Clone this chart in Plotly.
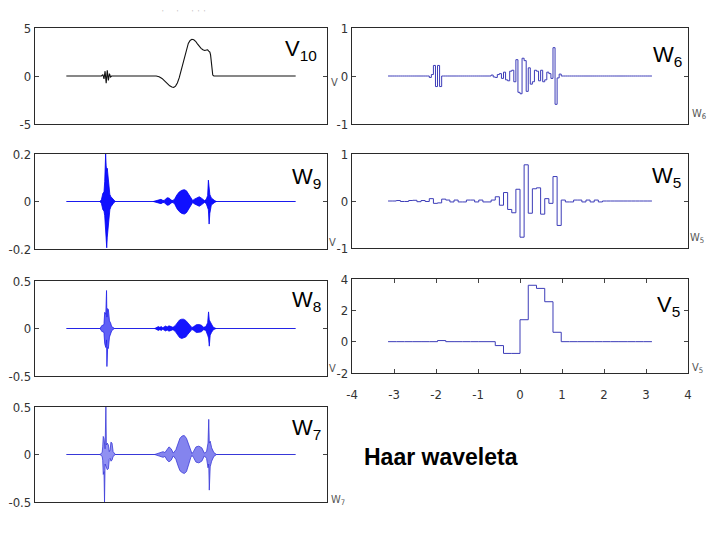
import numpy as np
import plotly.graph_objects as go

FIG_W, FIG_H = 720, 540
PAGE_OFFSET = 8  # default body margin of the page holding the figure
PI = np.pi

# ---------------- data ----------------
# V10 : smooth signal (x, value)
V10_X = [-3.1416, -2.18, -2.14, -2.11, -2.08, -2.05, -2.02, -1.99, -1.96, -1.93, -1.90,
         -0.68, -0.6, -0.52, -0.45, -0.38, -0.31, -0.25, -0.2, -0.15, -0.1, -0.05, 0.0, 0.05,
         0.1, 0.15, 0.2, 0.25, 0.3, 0.35, 0.4, 0.45, 0.5, 0.55, 0.6, 0.65, 0.7, 0.73, 0.76,
         0.79, 0.81, 0.83, 0.85, 0.87, 0.9, 3.1416]
V10_Y = [0, 0, 0.15, -0.3, 0.5, -0.75, 0.6, -0.45, 0.25, -0.1, 0,
         0, -0.08, -0.25, -0.5, -0.8, -1.02, -1.15, -1.18, -1.05, -0.72, -0.2, 0.5, 1.35,
         2.2, 2.9, 3.4, 3.7, 3.82, 3.78, 3.62, 3.35, 3.08, 2.88, 2.73, 2.66, 2.7, 2.72, 2.6,
         2.5, 2.2, 1.4, 0.5, 0.1, 0, 0]

# dense detail signals: envelopes (x, upper, lower) per burst
W9_BURST_A = [(-2.22, 0, 0), (-2.18, 0.008, -0.008), (-2.14, 0.035, -0.035), (-2.11, 0.04, -0.04),
              (-2.09, 0.085, -0.06), (-2.065, 0.2, -0.12), (-2.05, 0.15, -0.14), (-2.035, 0.13, -0.195),
              (-2.02, 0.14, -0.15), (-2.0, 0.1, -0.11), (-1.975, 0.055, -0.06), (-1.95, 0.03, -0.035),
              (-1.92, 0.02, -0.022), (-1.88, 0.012, -0.012), (-1.84, 0.005, -0.005), (-1.8, 0, 0)]
W9_BURST_B = [(-0.76, 0, 0), (-0.66, 0.003, -0.003), (-0.6, 0.007, -0.007), (-0.55, 0.009, -0.009),
              (-0.5, 0.005, -0.005), (-0.46, 0.004, -0.004), (-0.42, 0.011, -0.011), (-0.37, 0.016, -0.016),
              (-0.32, 0.014, -0.014), (-0.27, 0.006, -0.006), (-0.22, 0.004, -0.004), (-0.17, 0.012, -0.012),
              (-0.11, 0.028, -0.03), (-0.05, 0.04, -0.042), (0.02, 0.047, -0.05), (0.09, 0.05, -0.053),
              (0.15, 0.045, -0.047), (0.21, 0.03, -0.032), (0.27, 0.012, -0.012), (0.32, 0.004, -0.004),
              (0.37, 0.01, -0.01), (0.44, 0.017, -0.017), (0.5, 0.02, -0.02), (0.57, 0.013, -0.013),
              (0.64, 0.004, -0.004), (0.69, 0.008, -0.008), (0.73, 0.025, -0.025), (0.75, 0.09, -0.035),
              (0.77, 0.04, -0.095), (0.79, 0.03, -0.05), (0.83, 0.015, -0.015), (0.88, 0.008, -0.008),
              (0.93, 0.003, -0.003), (0.975, 0, 0)]

W8_BURST_A = [(-2.22, 0, 0), (-2.19, 0.012, -0.012), (-2.16, 0.035, -0.035), (-2.13, 0.03, -0.03),
              (-2.11, 0.05, -0.05), (-2.09, 0.17, -0.16), (-2.06, 0.15, -0.2), (-2.04, 0.4, -0.12),
              (-2.03, 0.12, -0.4), (-2.01, 0.21, -0.2), (-1.99, 0.2, -0.21), (-1.96, 0.08, -0.09),
              (-1.93, 0.06, -0.06), (-1.9, 0.02, -0.025), (-1.86, 0.01, -0.01), (-1.82, 0, 0)]
W8_BURST_B = [(-0.72, 0, 0), (-0.665, 0.01, -0.01), (-0.62, 0.02, -0.02), (-0.58, 0.012, -0.012),
              (-0.54, 0.02, -0.02), (-0.5, 0.008, -0.008), (-0.46, 0.022, -0.022), (-0.42, 0.026, -0.026),
              (-0.38, 0.015, -0.015), (-0.33, 0.028, -0.028), (-0.27, 0.02, -0.02), (-0.22, 0.012, -0.012),
              (-0.16, 0.03, -0.03), (-0.1, 0.065, -0.07), (-0.04, 0.09, -0.095), (0.02, 0.098, -0.105),
              (0.07, 0.098, -0.1), (0.13, 0.085, -0.09), (0.19, 0.06, -0.06), (0.25, 0.025, -0.025),
              (0.3, 0.01, -0.01), (0.35, 0.02, -0.02), (0.42, 0.04, -0.042), (0.49, 0.042, -0.04),
              (0.56, 0.035, -0.035), (0.62, 0.012, -0.012), (0.68, 0.02, -0.02), (0.73, 0.06, -0.07),
              (0.755, 0.175, -0.1), (0.775, 0.09, -0.186), (0.8, 0.07, -0.07), (0.84, 0.04, -0.04),
              (0.88, 0.015, -0.015), (0.93, 0.005, -0.005), (0.96, 0, 0)]

W7_BURST_A = [(-2.22, 0, 0), (-2.19, 0.01, -0.01), (-2.16, 0.02, -0.02), (-2.145, 0.08, -0.06),
              (-2.13, 0.19, -0.21), (-2.11, 0.17, -0.18), (-2.095, 0.08, -0.5), (-2.08, 0.06, -0.1),
              (-2.058, 0.5, -0.12), (-2.045, 0.1, -0.13), (-2.02, 0.12, -0.16), (-1.99, 0.1, -0.15),
              (-1.965, 0.03, -0.05), (-1.94, 0.05, -0.04), (-1.92, 0.13, -0.07), (-1.89, 0.12, -0.06),
              (-1.86, 0.03, -0.02), (-1.83, 0.01, -0.01), (-1.8, 0, 0)]
W7_BURST_B = [(-0.72, 0, 0), (-0.665, 0.008, -0.008), (-0.6, 0.015, -0.015), (-0.55, 0.025, -0.025),
              (-0.49, 0.03, -0.03), (-0.44, 0.02, -0.02), (-0.38, 0.06, -0.06), (-0.33, 0.08, -0.077),
              (-0.27, 0.06, -0.06), (-0.21, 0.015, -0.015), (-0.14, 0.05, -0.05), (-0.08, 0.12, -0.12),
              (-0.03, 0.17, -0.17), (0.03, 0.195, -0.19), (0.09, 0.2, -0.2), (0.15, 0.17, -0.18),
              (0.21, 0.1, -0.1), (0.27, 0.03, -0.03), (0.3, 0.01, -0.01), (0.34, 0.03, -0.03),
              (0.41, 0.08, -0.08), (0.49, 0.088, -0.088), (0.57, 0.07, -0.07), (0.64, 0.015, -0.015),
              (0.7, 0.03, -0.04), (0.74, 0.12, -0.14), (0.76, 0.37, -0.1), (0.775, 0.12, -0.375),
              (0.8, 0.14, -0.13), (0.84, 0.07, -0.07), (0.9, 0.02, -0.02), (0.975, 0, 0)]

# Haar detail coefficients (each gives +d then -d on its interval)
W6_COEF = ([0] * 10 + [-0.03, 0.22, 0.22] + [0] * 12 +
           [0.02, -0.03, 0.05, 0.08, -0.1, 0.12, 0.34, -0.37, 0.32, 0.17, -0.12, 0.1, 0.12,
            -0.08, 0.05, 0.59, -0.04] + [0] * 22)
W5_COEF = [0, 0.01, -0.01, 0.015, 0.01, 0.05, -0.04, 0.02, 0.02, -0.02, 0.02, 0.02, -0.02,
           0.09, 0.18, -0.25, -0.77, -0.26, 0.28, 0.05, 0.52, 0.02, -0.02, 0.02, 0.02, 0.02,
           0, 0, 0, 0, 0, 0]
# Haar approximation V5 (piecewise constant, 32 pieces)
V5_VALS = [0, 0, 0, 0, 0, 0, 0.07, 0, 0, 0, 0, 0, 0, -0.25, -0.75, -0.75, 1.4, 3.6, 3.4, 2.55,
           0.6, 0, 0, 0, 0, 0, 0, 0, 0, 0, 0, 0]

# tick labels
TICKS_V10 = ([-5, 0, 5], ["-5", "0", "5"])
TICKS_W9 = ([-0.2, 0, 0.2], ["-0.2", "0", "0.2"])
TICKS_W87 = ([-0.5, 0, 0.5], ["-0.5", "0", "0.5"])
TICKS_W65 = ([-1, 0, 1], ["-1", "0", "1"])
TICKS_V5 = ([-2, 0, 2, 4], ["-2", "0", "2", "4"])
XTICKS_V5 = ([-4, -3, -2, -1, 0, 1, 2, 3, 4], ["-4", "-3", "-2", "-1", "0", "1", "2", "3", "4"])

# ---------------- layout helpers ----------------
def fx(px):
    return (px - PAGE_OFFSET) / FIG_W


def fy(py):
    return 1 - (py - PAGE_OFFSET) / FIG_H


NARROW = "Liberation Sans Narrow, DejaVu Sans Condensed, Arial Narrow, Liberation Sans, sans-serif"
SANS = "Liberation Sans, Arial, Helvetica, sans-serif"

# panel boxes in pixels: (left, right, top, bottom), y-range, ticks
PANELS = [
    dict(box=(35, 327, 28, 124), yr=(-5, 5), ticks=TICKS_V10),    # 1 V10
    dict(box=(35, 327, 154, 249), yr=(-0.2, 0.2), ticks=TICKS_W9),  # 2 W9
    dict(box=(35, 327, 281, 376), yr=(-0.5, 0.5), ticks=TICKS_W87),  # 3 W8
    dict(box=(35, 327, 407, 502), yr=(-0.5, 0.5), ticks=TICKS_W87),  # 4 W7
    dict(box=(352, 688, 28, 124), yr=(-1, 1), ticks=TICKS_W65),     # 5 W6
    dict(box=(352, 688, 154, 248), yr=(-1, 1), ticks=TICKS_W65),    # 6 W5
    dict(box=(352, 688, 279, 373), yr=(-2, 4), ticks=TICKS_V5),     # 7 V5
]

fig = go.Figure()


def ax(i):
    return ("x" if i == 1 else f"x{i}"), ("y" if i == 1 else f"y{i}")


def add_line(i, x, y, color, width=1.0, shape="linear"):
    xa, ya = ax(i)
    fig.add_trace(go.Scatter(x=list(x), y=list(y), mode="lines", xaxis=xa, yaxis=ya,
                             line=dict(color=color, width=width, shape=shape),
                             hoverinfo="skip", showlegend=False))


def add_envelope(i, burst, line_color, fill_color):
    xa, ya = ax(i)
    xs, up, lo = zip(*burst)
    fig.add_trace(go.Scatter(x=list(xs), y=list(up), mode="lines", xaxis=xa, yaxis=ya,
                             line=dict(color=line_color, width=0.8), hoverinfo="skip",
                             showlegend=False))
    fig.add_trace(go.Scatter(x=list(xs), y=list(lo), mode="lines", xaxis=xa, yaxis=ya,
                             line=dict(color=line_color, width=0.8), fill="tonexty",
                             fillcolor=fill_color, hoverinfo="skip", showlegend=False))


def add_steps(i, vals, color):
    edges = np.linspace(-PI, PI, len(vals) + 1)
    add_line(i, edges, list(vals) + [vals[-1]], color, 1.0, "hv")


def haar_pieces(coef):
    out = []
    for d in coef:
        out += [d, -d]
    return out


# 1: V10
add_line(1, V10_X, V10_Y, "#111111", 1.1)
# 2: W9
add_line(2, [-PI, PI], [0, 0], "#1a1aee", 1.0)
add_envelope(2, W9_BURST_A, "#0000f0", "#1010ff")
add_envelope(2, W9_BURST_B, "#0000f0", "#1010ff")
# 3: W8
add_line(3, [-PI, PI], [0, 0], "#2424e6", 1.0)
add_envelope(3, W8_BURST_A, "#2020e8", "#6060f6")
add_envelope(3, W8_BURST_B, "#0a0af0", "#1414ff")
# 4: W7
add_line(4, [-PI, PI], [0, 0], "#3838d8", 1.0)
add_envelope(4, W7_BURST_A, "#3a3ad8", "#9090f2")
add_envelope(4, W7_BURST_B, "#3a3ad8", "#8484ee")
# 5: W6
add_steps(5, haar_pieces(W6_COEF), "#3c3cb8")
# 6: W5
add_steps(6, haar_pieces(W5_COEF), "#3c3cb8")
# 7: V5
add_steps(7, V5_VALS, "#3c3cb8")

layout = dict(width=FIG_W, height=FIG_H, margin=dict(l=0, r=0, t=0, b=0, pad=0, autoexpand=False),
              paper_bgcolor="white", plot_bgcolor="white", showlegend=False)

for i, p in enumerate(PANELS, start=1):
    l, r, t, b = p["box"]
    xk = "xaxis" if i == 1 else f"xaxis{i}"
    yk = "yaxis" if i == 1 else f"yaxis{i}"
    xa, ya = ax(i)
    xaxis = dict(domain=[fx(l), fx(r)], range=[-4, 4], anchor=ya, showgrid=False,
                 zeroline=False, showline=True, mirror=True, linecolor="#2a2a2a",
                 linewidth=1.3, showticklabels=False, ticks="", fixedrange=True,
                 automargin=False)
    if i == 7:
        xaxis.update(tickvals=XTICKS_V5[0], ticktext=XTICKS_V5[1], showticklabels=True,
                     ticks="inside", ticklen=4, tickcolor="#444", mirror="ticks",
                     ticklabelstandoff=9,
                     tickfont=dict(family=NARROW, size=13, color="#333"))
    tv, tt = p["ticks"]
    yaxis = dict(domain=[fy(b), fy(t)], range=list(p["yr"]), anchor=xa, showgrid=False,
                 zeroline=False, showline=True, mirror="ticks", linecolor="#2a2a2a",
                 linewidth=1.3, tickvals=tv, ticktext=tt, ticks="inside", ticklen=4,
                 tickcolor="#444", tickfont=dict(family=NARROW, size=13, color="#333"),
                 fixedrange=True, automargin=False)
    layout[xk] = xaxis
    layout[yk] = yaxis

fig.update_layout(**layout)

# big panel labels
BIG = [("V<sub>10</sub>", 283, 50), ("W<sub>9</sub>", 290, 178), ("W<sub>8</sub>", 290, 301),
       ("W<sub>7</sub>", 290, 429), ("W<sub>6</sub>", 651, 56), ("W<sub>5</sub>", 650, 177),
       ("V<sub>5</sub>", 655, 306)]
for txt, px, py in BIG:
    fig.add_annotation(text=txt, x=fx(px), y=fy(py), xref="paper", yref="paper",
                       xanchor="left", yanchor="middle", showarrow=False,
                       font=dict(family=SANS, size=22, color="black"))

# small residual axis labels at the right side of each panel
SMALL = [("V", 334, 82), ("V", 332, 243), ("V", 332, 368), ("W<sub>7</sub>", 338, 500),
         ("W<sub>6</sub>", 699, 114), ("W<sub>5</sub>", 697, 238), ("V<sub>5</sub>", 697, 368)]
for txt, px, py in SMALL:
    fig.add_annotation(text=txt, x=fx(px), y=fy(py), xref="paper", yref="paper",
                       xanchor="center", yanchor="middle", showarrow=False,
                       font=dict(family=NARROW, size=11, color="#555"))

fig.add_annotation(text="<b>Haar waveleta</b>", x=fx(362), y=fy(457), xref="paper", yref="paper",
                   xanchor="left", yanchor="middle", showarrow=False,
                   font=dict(family=SANS, size=23, color="black"))

fig.add_annotation(text="'      '      '  '  '", x=fx(160), y=fy(12), xref="paper", yref="paper",
                   xanchor="left", yanchor="middle", showarrow=False,
                   font=dict(family=SANS, size=8, color="#bbbbbb"))

fig.write_html("out.html")
